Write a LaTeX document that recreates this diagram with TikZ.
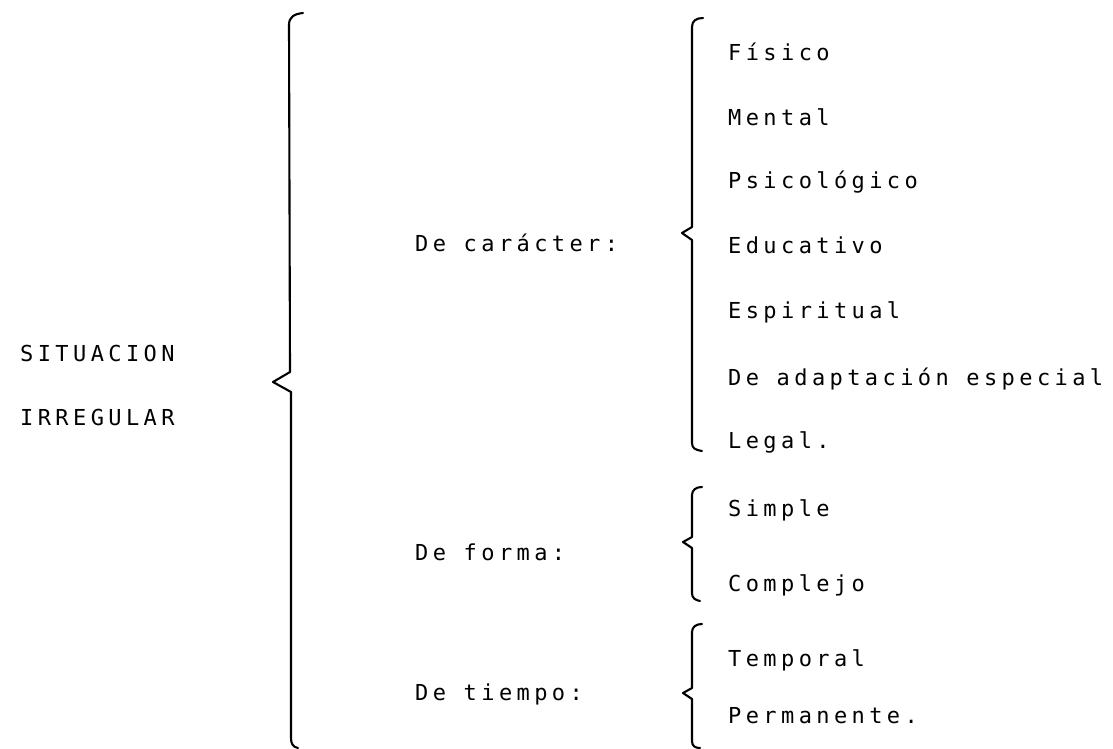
\documentclass[tikz,border=0pt]{standalone}
\usepackage{fontspec}
\newfontfamily\tw[LetterSpace=20]{DejaVu Sans Mono}
\begin{document}
\begin{tikzpicture}[x=1pt,y=-1pt,
  txt/.style={anchor=base west,inner sep=0pt,font=\tw\fontsize{22}{22}\selectfont},
  bracel/.style={line width=2.1pt,line cap=round,line join=round}]
\useasboundingbox (0,0) rectangle (1113,749);
% left label
\node[txt] (s1) at (20,361) {SITUACION};
\node[txt] (s2) at (20,425) {IRREGULAR};
% big brace
\draw[bracel] (303,13) .. controls (294,14) and (289,17) .. (289,25) -- (290,372) -- (273,382) -- (291,392) -- (291,738) .. controls (291,744) and (293,747) .. (298,748);
% middle labels
\node[txt] (c) at (415,251) {De carácter:};
\node[txt] (f) at (415,560) {De forma:};
\node[txt] (t) at (415,700) {De tiempo:};
% brace 2
\draw[bracel] (703,18) .. controls (696,18) and (692,21) .. (692,27) -- (692,227) -- (682,233) -- (692,240) -- (692,443) .. controls (692,448) and (695,450) .. (702,451);
% brace 3
\draw[bracel] (702,487) .. controls (696,487) and (692,490) .. (692,495) -- (692,537) -- (683,542) -- (692,548) -- (692,593) .. controls (692,598) and (695,600) .. (700,601);
% brace 4
\draw[bracel] (702,624) .. controls (696,624) and (692,627) .. (692,632) -- (692,688) -- (683,693) -- (692,699) -- (692,741) .. controls (692,746) and (695,748) .. (700,748);
% items
\node[txt] (i1) at (728,61) {Físico};
\node[txt] (i2) at (728,125) {Mental};
\node[txt] (i3) at (728,188) {Psicológico};
\node[txt] (i4) at (728,253) {Educativo};
\node[txt] (i5) at (728,318) {Espiritual};
\node[txt] (i6) at (728,385) {De adaptación especial};
\node[txt] (i7) at (728,448) {Legal.};
\node[txt] (j1) at (728,516) {Simple};
\node[txt] (j2) at (728,591) {Complejo};
\node[txt] (k1) at (728,666) {Temporal};
\node[txt] (k2) at (728,723) {Permanente.};
\end{tikzpicture}
\end{document}
